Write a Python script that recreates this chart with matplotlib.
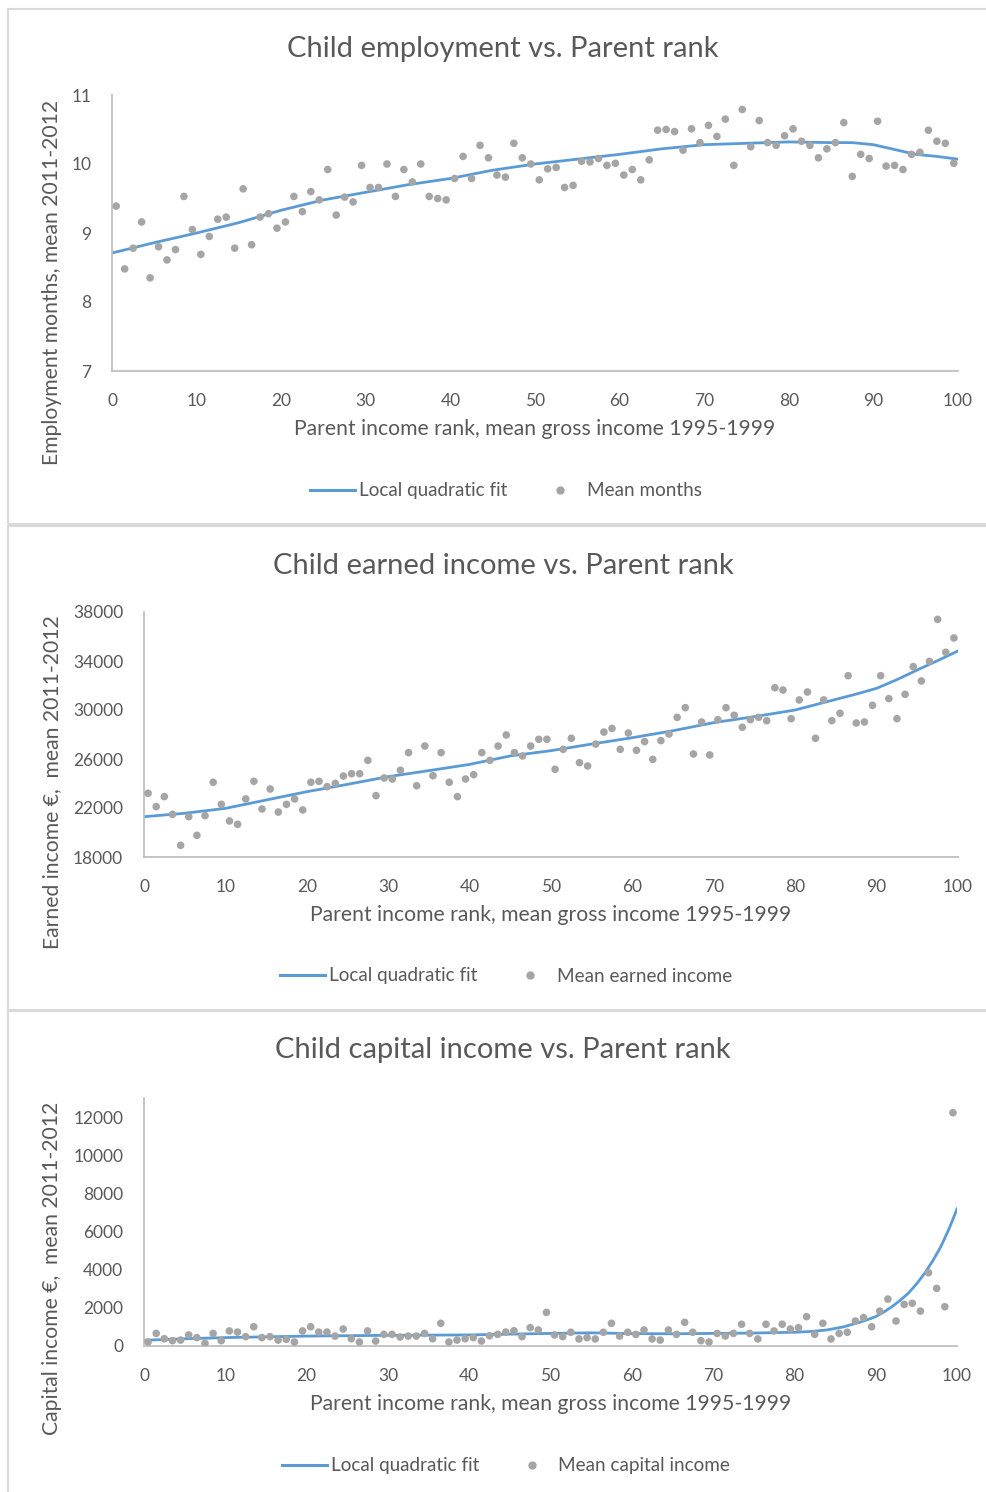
import matplotlib
matplotlib.use("Agg")
import matplotlib.pyplot as plt
from matplotlib.patches import Rectangle
from matplotlib.lines import Line2D

# parent income rank (percentile midpoints)
rank = [r + 0.5 for r in range(100)]

# mean employment months
emp = [9.39, 8.48, 8.78, 9.16, 8.35, 8.80, 8.61, 8.76, 9.53, 9.05,
       8.69, 8.95, 9.20, 9.23, 8.78, 9.64, 8.83, 9.23, 9.28, 9.07,
       9.16, 9.53, 9.31, 9.60, 9.48, 9.92, 9.26, 9.52, 9.45, 9.98,
       9.66, 9.66, 10.00, 9.53, 9.92, 9.74, 10.00, 9.53, 9.50, 9.48,
       9.79, 10.11, 9.79, 10.27, 10.09, 9.84, 9.81, 10.30, 10.09, 10.00,
       9.77, 9.93, 9.95, 9.66, 9.69, 10.04, 10.03, 10.08, 9.98, 10.01,
       9.84, 9.92, 9.77, 10.06, 10.49, 10.50, 10.47, 10.20, 10.51, 10.31,
       10.56, 10.40, 10.65, 9.98, 10.79, 10.25, 10.63, 10.31, 10.27, 10.41,
       10.51, 10.33, 10.27, 10.09, 10.22, 10.31, 10.60, 9.82, 10.14, 10.08,
       10.62, 9.97, 9.98, 9.92, 10.14, 10.17, 10.49, 10.33, 10.30, 10.01]

# mean earned income
earn = [23200, 22110, 22930, 21480, 18950, 21290, 19770, 21370, 24100, 22300,
        20940, 20670, 22740, 24180, 21920, 23550, 21670, 22300, 22740, 21840,
        24100, 24180, 23740, 24010, 24610, 24800, 24800, 25890, 23010, 24450,
        24370, 25080, 26520, 23820, 27060, 24640, 26520, 24100, 22930, 24370,
        24720, 26520, 25890, 27060, 27960, 26520, 26250, 27060, 27610, 27610,
        25160, 26790, 27690, 25700, 25430, 27220, 28200, 28500, 26790, 28120,
        26710, 27420, 25970, 27500, 28040, 29400, 30190, 26410, 29020, 26330,
        29210, 30190, 29570, 28590, 29210, 29400, 29130, 31820, 31630, 29290,
        30820, 31470, 27690, 30820, 29130, 29730, 32800, 28940, 29020, 30380,
        32800, 30930, 29290, 31280, 33540, 32370, 33970, 37400, 34710, 35880]

# mean capital income
cap = [210, 660, 380, 280, 310, 580, 440, 140, 660, 280,
       790, 730, 490, 1010, 440, 490, 310, 350, 210, 790,
       1010, 730, 730, 520, 890, 380, 210, 790, 260, 610,
       610, 470, 520, 520, 660, 380, 1190, 210, 310, 380,
       440, 260, 540, 610, 730, 800, 490, 960, 840, 1760,
       580, 490, 720, 370, 440, 370, 720, 1190, 520, 720,
       610, 840, 370, 310, 840, 610, 1240, 720, 280, 210,
       660, 520, 660, 1140, 660, 370, 1140, 790, 1140, 890,
       960, 1540, 610, 1190, 370, 660, 720, 1310, 1490, 1010,
       1830, 2460, 1310, 2180, 2240, 1830, 3840, 3020, 2060, 12230]

# local quadratic fit
fit_x = [0, 5, 10, 15, 20, 25, 30, 35, 40, 45, 50,
         55, 60, 65, 70, 75, 80, 85, 87.5, 90, 92.5, 95, 97.5, 100]
emp_fit = [8.71, 8.86, 9.00, 9.15, 9.33, 9.48, 9.59, 9.70, 9.79, 9.91, 10.00,
           10.07, 10.14, 10.22, 10.28, 10.30, 10.32, 10.31, 10.31, 10.28, 10.21,
           10.14, 10.11, 10.07]
earn_fit = [21290, 21570, 21970, 22650, 23330, 23930, 24560, 25050, 25560, 26250, 26680,
            27220, 27740, 28310, 28970, 29460, 30000, 30870, 31300, 31770, 32480,
            33270, 34030, 34820]
cap_fit_x = [0, 5, 10, 15, 20, 25, 30, 35, 40, 45, 50, 55, 60, 65, 70, 75, 80,
             82, 84, 86, 88, 89, 90, 91, 92, 93, 94, 95, 96, 97, 98, 99, 100]
cap_fit = [300, 380, 440, 480, 520, 540, 560, 570, 580, 620, 660, 690, 650, 640, 660, 680, 720,
           760, 840, 1000, 1240, 1380, 1540, 1780, 2060, 2390, 2760, 3240, 3800, 4450,
           5200, 6120, 7180]

x_ticks = [0, 10, 20, 30, 40, 50, 60, 70, 80, 90, 100]
xlabel = "Parent income rank, mean gross income 1995-1999"

W, H = 986, 1492
TXT = "#595959"
GRID = "#BFBFBF"
DOT = "#A5A5A5"
LINE = "#5B9BD5"

plt.rcParams["font.family"] = ["Lato", "DejaVu Sans"]

fig = plt.figure(figsize=(W / 100, H / 100), dpi=100)


def fx(px):
    return px / W


def fy(py):
    return 1 - py / H


def panel(box, axbox, title, title_y, ylabel, ylab_y, yticks, ylim,
          fit_xs, fit_ys, ys, dot_label, leg_y, xlab_y):
    # light frame around each chart
    x0, y0, x1, y1 = box
    fig.patches.append(Rectangle((fx(x0), fy(y1)), fx(x1 - x0), (y1 - y0) / H,
                                 transform=fig.transFigure, fill=False,
                                 edgecolor="#D9D9D9", lw=1.5))
    l, t, r, b = axbox
    ax = fig.add_axes([fx(l), fy(b), fx(r - l), (b - t) / H])
    ax.plot(fit_xs, fit_ys, color=LINE, lw=2.0, label="Local quadratic fit", zorder=2)
    ax.scatter(rank, ys, s=30, color=DOT, edgecolors="none", label=dot_label, zorder=3)
    ax.set_xlim(0, 100)
    ax.set_ylim(*ylim)
    ax.set_xticks(x_ticks)
    ax.set_yticks(yticks)
    for s in ["top", "right"]:
        ax.spines[s].set_visible(False)
    for s in ["left", "bottom"]:
        ax.spines[s].set_color(GRID)
        ax.spines[s].set_linewidth(1.3)
    ax.tick_params(length=0, labelsize=12.5, labelcolor=TXT)
    ax.tick_params(axis="x", pad=16)
    ax.tick_params(axis="y", pad=15)
    ax.set_xlabel(xlabel, fontsize=15.2, color=TXT)
    ax.xaxis.set_label_coords(0.5, (b - xlab_y) / (b - t))
    fig.text(fx(503), fy(title_y), title, fontsize=21, color=TXT,
             ha="center", va="center")
    fig.text(fx(52), fy(ylab_y), ylabel, fontsize=15.2, color=TXT,
             rotation=90, ha="center", va="center")
    handles = [Line2D([], [], color=LINE, lw=2.2),
               Line2D([], [], color=DOT, marker="o", ls="none", markersize=5)]
    ax.legend(handles, ["Local quadratic fit", dot_label], loc="center",
              bbox_to_anchor=(fx(506), fy(leg_y)), bbox_transform=fig.transFigure,
              ncol=2, frameon=False, fontsize=13.6, labelcolor=TXT,
              handlelength=2.4, handletextpad=0.2, columnspacing=1.6)
    return ax


panel((8, 9, 990, 524), (112, 95, 958, 371),
      "Child employment vs. Parent rank", 49,
      "Employment months, mean 2011-2012", 282,
      [7, 8, 9, 10, 11], (7, 11), fit_x, emp_fit, emp, "Mean months", 491, 419)

panel((8, 526, 990, 1010), (144, 612, 958, 857),
      "Child earned income vs. Parent rank", 566,
      "Earned income \u20ac,  mean 2011-2012", 782,
      [18000, 22000, 26000, 30000, 34000, 38000], (18000, 38000),
      fit_x, earn_fit, earn, "Mean earned income", 976, 905)

panel((8, 1011, 990, 1500), (144, 1098, 957, 1346),
      "Child capital income vs. Parent rank", 1050,
      "Capital income \u20ac,  mean 2011-2012", 1268,
      [0, 2000, 4000, 6000, 8000, 10000, 12000], (0, 13000),
      cap_fit_x, cap_fit, cap, "Mean capital income", 1466, 1394)

fig.savefig("out.png", dpi=100)
